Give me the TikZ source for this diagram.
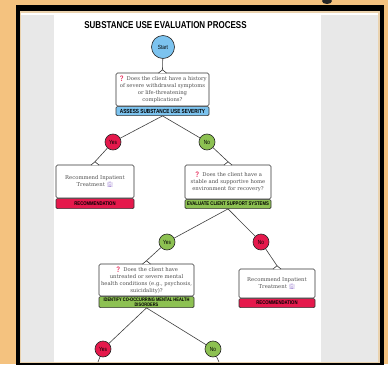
\documentclass[tikz,border=0pt]{standalone}
\usepackage{fontspec}
\setmainfont{DejaVu Serif}
\newfontfamily\tagfont[FakeStretch=0.8]{Liberation Sans}
\newfontfamily\emojifont{Noto Emoji}
\usetikzlibrary{positioning}

\definecolor{cork}{HTML}{F4C27F}
\definecolor{creamedge}{HTML}{EAD2AE}
\definecolor{panelgray}{HTML}{E8E8E8}
\definecolor{startblue}{HTML}{7CC3EF}
\definecolor{yesred}{HTML}{E5194C}
\definecolor{nogreen}{HTML}{8DC152}
\definecolor{textgray}{HTML}{505050}
\definecolor{iconpurple}{HTML}{A58BD6}

\newcommand{\qmark}{{\emojifont\color{yesred}❓}}
\newcommand{\hospital}{{\emojifont\color{iconpurple}🏥}}

% little peak on top of a box, the connector ends at its tip
\newcommand{\boxnotch}[1]{%
  \filldraw[fill=white,draw=black!80,line width=0.6pt]
    ([xshift=-4pt,yshift=-0.4pt]#1.north) -- ([yshift=3pt]#1.north) -- ([xshift=4pt,yshift=-0.4pt]#1.north);
  \coordinate (#1tip) at ([yshift=3pt]#1.north);}

\tikzset{
  decision/.style={circle,draw=black!85,line width=0.6pt,minimum size=16pt,inner sep=0pt,
    font=\tagfont\fontsize{6}{7}\selectfont},
  yesbad/.style={decision,fill=yesred},
  nogood/.style={decision,fill=nogreen},
  yesgood/.style={decision,fill=nogreen},
  nobad/.style={decision,fill=yesred},
  bodybox/.style={rectangle,draw=black!80,fill=white,rounded corners=1.5pt,line width=0.6pt,
    align=center,text=textgray,inner sep=1pt,font=\fontsize{5.3}{7}\selectfont},
  band/.style={rectangle,draw=black!80,rounded corners=1.2pt,line width=0.6pt,align=center,
    inner sep=0.5pt,font=\tagfont\bfseries\fontsize{5.3}{5.4}\selectfont},
  link/.style={draw=black!75,line width=0.6pt},
}

\begin{document}
\begin{tikzpicture}[x=1pt,y=-1pt]
  \useasboundingbox (0,0) rectangle (388,364);
  % board and frame
  \fill[cork] (0,0) rectangle (388,364);
  \fill[black!85] (327,1) ellipse (5 and 3);
  \fill[black] (16,5) rectangle (384,372);
  \fill[creamedge] (20,11) rectangle (380,363);
  \fill[white] (21,13) rectangle (378,362);
  \fill[panelgray] (21,15) rectangle (54,362);
  \fill[panelgray] (321,15) rectangle (378,362);

  \node[font=\tagfont\bfseries\fontsize{10}{11}\selectfont] (title) at (165.5,25) {SUBSTANCE USE EVALUATION PROCESS};

  \node[decision,fill=startblue,minimum size=23pt] (start) at (163,47) {Start};

  % first question
  \node[bodybox,minimum width=93pt,minimum height=33pt] (q1) at (162.5,89.5)
    {\qmark\ Does the client have a history\\of severe withdrawal symptoms\\or life-threatening\\complications?};
  \node[band,fill=startblue,minimum width=93pt,minimum height=9pt,anchor=north,
    font=\tagfont\bfseries\fontsize{5.9}{6}\selectfont] (q1band) at (q1.south)
    {ASSESS SUBSTANCE USE SEVERITY};
  \boxnotch{q1}
  \draw[link] (start) -- (q1tip);

  \node[yesbad] (yes1) at (113,142) {Yes};
  \node[nogood] (no1) at (207,142) {No};
  \draw[link] (q1band.south) -- (yes1);
  \draw[link] (q1band.south) -- (no1);

  % inpatient, left
  \node[bodybox,minimum width=78pt,minimum height=33pt] (rec1) at (95,181.5)
    {Recommend Inpatient\\Treatment \hospital};
  \node[band,fill=yesred,minimum width=78pt,minimum height=10pt,anchor=north] (rec1band) at (rec1.south)
    {RECOMMENDATION};
  \boxnotch{rec1}
  \draw[link] (yes1) -- (rec1tip);

  % second question
  \node[bodybox,minimum width=86pt,minimum height=34pt] (q2) at (228,182)
    {\qmark\ Does the client have a\\stable and supportive home\\environment for recovery?};
  \node[band,fill=nogreen,minimum width=86pt,minimum height=9pt,anchor=north] (q2band) at (q2.south)
    {EVALUATE CLIENT SUPPORT SYSTEMS};
  \boxnotch{q2}
  \draw[link] (no1) -- (q2tip);

  \node[yesgood] (yes2) at (167,242) {Yes};
  \node[nobad] (no2) at (261,242) {No};
  \draw[link] (q2band.south) -- (yes2);
  \draw[link] (q2band.south) -- (no2);

  % third question
  \node[bodybox,minimum width=95pt,minimum height=32pt] (q3) at (146.5,280)
    {\qmark\ Does the client have\\untreated or severe mental\\health conditions (e.g., psychosis,\\suicidality)?};
  \node[band,fill=nogreen,minimum width=95pt,minimum height=11pt,anchor=north,
    font=\tagfont\bfseries\fontsize{5}{5.2}\selectfont] (q3band) at (q3.south)
    {IDENTIFY CO-OCCURRING MENTAL HEALTH\\DISORDERS};
  \boxnotch{q3}
  \draw[link] (yes2) -- (q3tip);

  % inpatient, right
  \node[bodybox,minimum width=76pt,minimum height=29pt] (rec2) at (277,283.5)
    {Recommend Inpatient\\Treatment \hospital};
  \node[band,fill=yesred,minimum width=76pt,minimum height=9pt,anchor=north] (rec2band) at (rec2.south)
    {RECOMMENDATION};
  \boxnotch{rec2}
  \draw[link] (no2) -- (rec2tip);

  \node[nobad] (yes3) at (103,349) {Yes};
  \node[yesgood] (no3) at (213,349) {No};
  \draw[link] (q3band.south) -- (yes3);
  \draw[link] (q3band.south) -- (no3);
  \coordinate (yes3out) at (98,362);
  \coordinate (no3out) at (219,362);
  \draw[link] (yes3) -- (yes3out);
  \draw[link] (no3) -- (no3out);
\end{tikzpicture}
\end{document}
